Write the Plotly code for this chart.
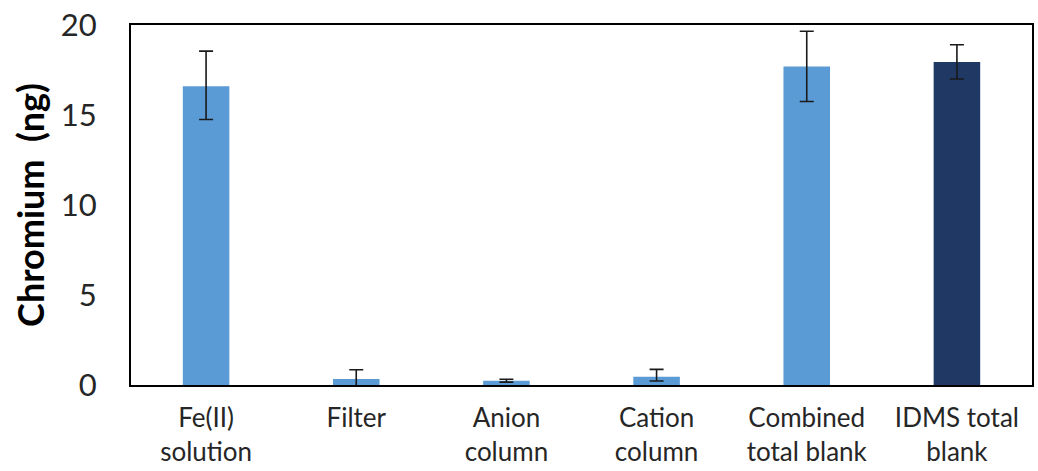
import plotly.graph_objects as go

categories = ["Fe(II)<br>solution", "Filter", "Anion<br>column", "Cation<br>column",
              "Combined<br>total blank", "IDMS total<br>blank"]
values = [16.6, 0.33, 0.24, 0.46, 17.7, 17.95]
err_plus = [1.95, 0.52, 0.08, 0.41, 1.95, 0.95]
err_minus = [1.85, 0.52, 0.08, 0.24, 1.95, 0.95]
colors = ["#5B9BD5", "#5B9BD5", "#5B9BD5", "#5B9BD5", "#5B9BD5", "#1F3864"]

FONT = "Lato, Roboto, Arial, sans-serif"

fig = go.Figure(go.Bar(
    x=categories, y=values,
    marker=dict(color=colors, line=dict(width=0)),
    error_y=dict(type="data", array=err_plus, arrayminus=err_minus, symmetric=False,
                 color="#1a1a1a", thickness=1.6, width=7),
))

fig.update_layout(
    width=1038, height=471,
    margin=dict(l=131, r=6, t=25, b=86),
    paper_bgcolor="white", plot_bgcolor="white",
    bargap=0.69,
    showlegend=False,
    font=dict(family=FONT, color="#262626"),
)
fig.update_yaxes(
    range=[0, 20], tickvals=[0, 5, 10, 15, 20],
    showgrid=False, zeroline=False, automargin=False,
    showline=True, linecolor="black", linewidth=2, mirror=True,
    ticks="", ticklabelstandoff=26,
    tickfont=dict(size=31, family=FONT, color="#262626"),
    title=dict(text="<b>Chromium  (ng)</b>", font=dict(size=36, family=FONT, color="black"), standoff=5),
)
fig.update_xaxes(
    showgrid=False, showline=True, linecolor="black", linewidth=2, mirror=True,
    automargin=False,
    ticks="", ticklabelstandoff=9,
    tickfont=dict(size=26, family=FONT, color="#262626"),
)

fig.write_html("out.html")
